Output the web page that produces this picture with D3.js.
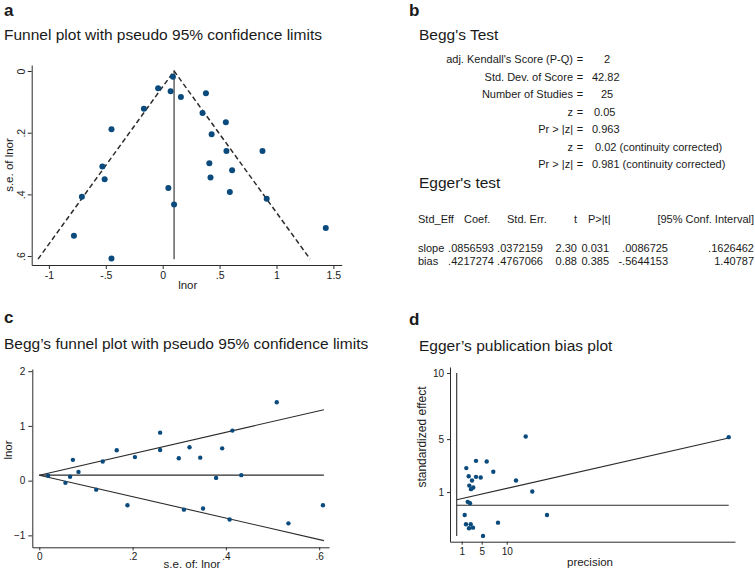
<!DOCTYPE html>
<html><head><meta charset="utf-8">
<script src="https://cdn.jsdelivr.net/npm/d3@7"></script>
<style>
html,body{margin:0;padding:0;background:#fff;}
svg{display:block;font-family:"Liberation Sans",Arial,sans-serif;}
</style></head>
<body>
<svg id="chart" width="755" height="578"></svg>
<script>
// ---- data: 25 studies (shared by panels a and c) ----
const seVals   = [0.019,0.056,0.066,0.072,0.084,0.122,0.136,0.166,0.189,0.205,0.259,0.259,0.299,0.310,0.322,0.345,0.351,0.379,0.392,0.408,0.414,0.433,0.534,0.608,0.509];
const lnorVals = [0.09,-0.04,0.07,0.38,0.16,-0.165,0.35,0.555,-0.45,0.43,0.877,0.56,0.41,-0.53,0.61,0.42,-0.51,0.05,0.59,-0.71,0.914,0.10,-0.78,-0.45,1.433];
const pooledLnor = 0.10;
const seMax = 0.61;
// ---- Egger plot data ----
const precisionVals = [13.8,54.4,1.92,3.86,6.0,7.32,2.4,3.86,4.8,3.06,11.86,2.52,3.32,2.86,15.12,2.2,2.66,1.6,18.06,1.86,2.8,8.26,2.46,3.26,5.26];
const stdEffectVals = [5.2,5.15,2.81,3.36,3.31,2.53,2.2,2.15,2.1,1.87,1.87,1.49,1.34,1.22,1.04,0.26,0.16,-0.73,-0.73,-1.43,-1.43,-1.31,-1.73,-1.69,-2.31];
const eggerSlope = 0.0856593, eggerBias = 0.4217274;
// ---- ticks ----
const aXTicks = [-1,-0.5,0,0.5,1,1.5];
const aXTickLabels = ["-1","-.5","0",".5","1","1.5"];
const aYTicks = [0,0.2,0.4,0.6];
const aYTickLabels = ["0",".2",".4",".6"];
const cXTicks = [0,0.2,0.4,0.6];
const cXTickLabels = ["0",".2",".4",".6"];
const cYTicks = [-1,0,1,2];
const cYTickLabels = ["\u22121","0","1","2"];
const dXTicks = [1,5,10];
const dYTicks = [1,5,10];
// ---- panel b text ----
const beggLabels = ["adj. Kendall's Score (P-Q)","Std. Dev. of Score","Number of Studies","z","Pr > |z|","z","Pr > |z|"];
const beggValues = ["2","42.82","25","0.05","0.963","0.02 (continuity corrected)","0.981 (continuity corrected)"];
const eggerHeader = ["Std_Eff","Coef.","Std. Err.","t","P>|t|","[95% Conf. Interval]"];
const eggerRows = [
  ["slope",".0856593",".0372159","2.30","0.031",".0086725",".1626462"],
  ["bias",".4217274",".4767066","0.88","0.385","-.5644153","1.40787"]
];

const svg = d3.select("#chart");
const DOT = "#0a4a7c", LINE = "#2b2b2b", TXT = "#1a1a1a";
const studies = seVals.map((s,i)=>({se:s, lnor:lnorVals[i]}));

function txt(x,y,s,size,opts={}){
  const t = svg.append("text").attr("x",x).attr("y",y).attr("font-size",size).attr("fill",TXT).text(s);
  if(opts.bold) t.attr("font-weight","bold");
  if(opts.anchor) t.attr("text-anchor",opts.anchor);
  return t;
}
function styleAxis(a,size){
  a.select(".domain").attr("stroke",LINE);
  a.selectAll("line").attr("stroke",LINE);
  a.selectAll("text").attr("font-size",size).attr("fill",TXT).attr("font-family","Liberation Sans, Arial, sans-serif");
}

// ===== Panel a =====
{
  const x = d3.scaleLinear().domain([-1.151,1.573]).range([31.7,341.7]);
  const y = d3.scaleLinear().domain([-0.0195,0.629]).range([65,265]);
  txt(4,16,"a",17,{bold:true});
  txt(4,40,"Funnel plot with pseudo 95% confidence limits",15.5);
  const g = svg.append("g");
  const xa = g.append("g").attr("transform",`translate(0,${y.range()[1]})`)
    .call(d3.axisBottom(x).tickValues(aXTicks).tickFormat((d,i)=>aXTickLabels[i]).tickSize(4).tickSizeOuter(0));
  const ya = g.append("g").attr("transform",`translate(${x.range()[0]},0)`)
    .call(d3.axisLeft(y).tickValues(aYTicks).tickFormat((d,i)=>aYTickLabels[i]).tickSize(4).tickSizeOuter(0));
  styleAxis(xa,10.5); styleAxis(ya,10.5);
  ya.selectAll(".tick text").attr("transform","rotate(-90)").attr("x",0).attr("y",-7).attr("dy",0).attr("text-anchor","middle");
  txt(x(0.22),289,"lnor",11.5,{anchor:"middle"});
  txt(0,0,"s.e. of lnor",11.5,{anchor:"middle"}).attr("transform",`translate(13,${(y.range()[0]+y.range()[1])/2})rotate(-90)`);
  g.append("line").attr("x1",x(pooledLnor)).attr("x2",x(pooledLnor)).attr("y1",y(0)).attr("y2",y(seMax)).attr("stroke",LINE).attr("stroke-width",1.1);
  const funnel = [[pooledLnor-1.96*seMax,seMax],[pooledLnor,0],[pooledLnor+1.96*seMax,seMax]];
  g.append("path").attr("d",d3.line().x(d=>x(d[0])).y(d=>y(d[1]))(funnel)).attr("fill","none")
    .attr("stroke",LINE).attr("stroke-width",1.5).attr("stroke-dasharray","5,3");
  g.selectAll("circle").data(studies).join("circle").attr("cx",d=>x(d.lnor)).attr("cy",d=>y(d.se)).attr("r",3).attr("fill",DOT);
}

// ===== Panel b =====
{
  txt(409,16,"b",17,{bold:true});
  txt(419,40,"Begg's Test",15.5);
  const rowY = d3.scaleLinear().domain([0,6]).range([63,168]);
  const valX = [604,592,601,594,592,595,592];
  beggLabels.forEach((l,i)=>{
    txt(573,rowY(i),l,11,{anchor:"end"});
    txt(580,rowY(i),"=",11,{anchor:"middle"});
    txt(valX[i],rowY(i),beggValues[i],11);
  });
  txt(419,188,"Egger's test",15.5);
  const headPos = [[418,"start"],[464,"start"],[507,"start"],[574,"start"],[588,"start"],[754,"end"]];
  eggerHeader.forEach((h,i)=>txt(headPos[i][0],223,h,11,{anchor:headPos[i][1]}));
  const colRight = [null,494,543,577,609,668,754];
  eggerRows.forEach((r,j)=>{
    const yy = 252 + j*13;
    r.forEach((v,i)=>{
      if(i===0) txt(418,yy,v,11);
      else txt(colRight[i],yy,v,11,{anchor:"end"});
    });
  });
}

// ===== Panel c =====
{
  const x = d3.scaleLinear().domain([-0.015,0.621]).range([32.3,329]);
  const y = d3.scaleLinear().domain([-1.218,2.04]).range([547.3,369]);
  txt(4,323,"c",17,{bold:true});
  txt(4,349,"Begg\u2019s funnel plot with pseudo 95% confidence limits",15.5);
  const g = svg.append("g");
  const xa = g.append("g").attr("transform",`translate(0,${y.range()[0]})`)
    .call(d3.axisBottom(x).tickValues(cXTicks).tickFormat((d,i)=>cXTickLabels[i]).tickSize(3).tickSizeOuter(0));
  const ya = g.append("g").attr("transform",`translate(${x.range()[0]},0)`)
    .call(d3.axisLeft(y).tickValues(cYTicks).tickFormat((d,i)=>cYTickLabels[i]).tickSize(4).tickSizeOuter(0));
  styleAxis(xa,10); styleAxis(ya,10);
  txt(192,568,"s.e. of: lnor",11.5,{anchor:"middle"});
  txt(0,0,"lnor",11.5,{anchor:"middle"}).attr("transform",`translate(12,450)rotate(-90)`);
  const lines = [
    [[0,pooledLnor],[seMax,pooledLnor+1.96*seMax]],
    [[0,pooledLnor],[seMax,pooledLnor]],
    [[0,pooledLnor],[seMax,pooledLnor-1.96*seMax]]
  ];
  g.selectAll("path.fl").data(lines).join("path").attr("class","fl")
    .attr("d",d3.line().x(d=>x(d[0])).y(d=>y(d[1]))).attr("fill","none").attr("stroke",LINE).attr("stroke-width",1.1);
  g.selectAll("circle").data(studies).join("circle").attr("cx",d=>x(d.se)).attr("cy",d=>y(d.lnor)).attr("r",2.2).attr("fill",DOT);
}

// ===== Panel d =====
{
  const x = d3.scaleLinear().domain([-1.34,55.66]).range([450,735]);
  const y = d3.scaleLinear().domain([-2.75,10.45]).range([541.7,367]);
  txt(409,325,"d",17,{bold:true});
  txt(419,351,"Egger\u2019s publication bias plot",15.5);
  const g = svg.append("g");
  const xa = g.append("g").attr("transform",`translate(0,${y.range()[0]})`)
    .call(d3.axisBottom(x).tickValues(dXTicks).tickSize(3).tickSizeOuter(0));
  const ya = g.append("g").attr("transform",`translate(${x.range()[0]},0)`)
    .call(d3.axisLeft(y).tickValues(dYTicks).tickSize(3).tickSizeOuter(0));
  styleAxis(xa,10); styleAxis(ya,10);
  txt(590,566,"precision",11.5,{anchor:"middle"});
  txt(0,0,"standardized effect",12,{anchor:"middle"}).attr("transform",`translate(426,437)rotate(-90)`);
  const pMax = d3.max(precisionVals);
  g.append("line").attr("x1",x(0)).attr("x2",x(0)).attr("y1",y(d3.min(stdEffectVals))).attr("y2",y(d3.max(dYTicks))).attr("stroke",LINE).attr("stroke-width",1.1);
  g.append("line").attr("x1",x(0)).attr("x2",x(pMax)).attr("y1",y(0)).attr("y2",y(0)).attr("stroke",LINE).attr("stroke-width",1.1);
  g.append("line").attr("x1",x(0)).attr("x2",x(pMax)).attr("y1",y(eggerBias)).attr("y2",y(eggerBias+eggerSlope*pMax)).attr("stroke",LINE).attr("stroke-width",1.1);
  const pts = precisionVals.map((p,i)=>({p, e:stdEffectVals[i]}));
  g.selectAll("circle").data(pts).join("circle").attr("cx",d=>x(d.p)).attr("cy",d=>y(d.e)).attr("r",2.2).attr("fill",DOT);
}
</script>
</body></html>
